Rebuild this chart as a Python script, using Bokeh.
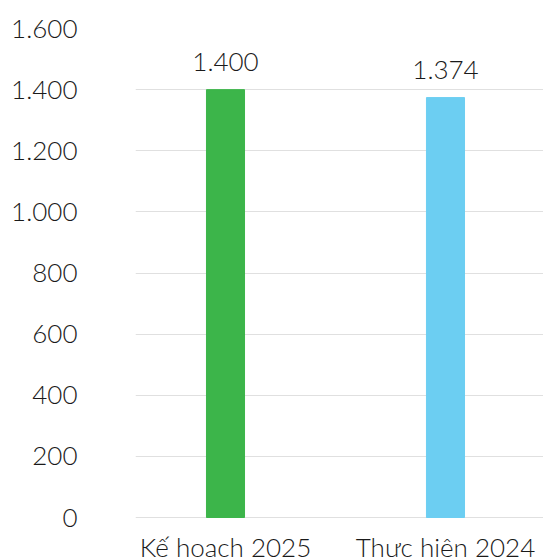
from bokeh.plotting import figure
from bokeh.models import ColumnDataSource, Range1d, FixedTicker
from bokeh.core.properties import value
from bokeh.embed import file_html
from bokeh.resources import INLINE

# Data
categories = ["Kế hoạch 2025", "Thực hiện 2024"]
amounts = [1400, 1374]
bar_colors = ["#3cb54a", "#6ccef2"]
y_ticks = [0, 200, 400, 600, 800, 1000, 1200, 1400, 1600]


def vn_number(v):
    return f"{int(v):,}".replace(",", ".")


FONT = "Lato Light"
TEXT_COLOR = "#1a1a1a"

# Layout in pixels: the value axis spans 0..1600 over 489 px, and the
# plot area continues 42 px below zero to hold the category names.
AXIS_PX = 489
BELOW_PX = 42
y_min = -y_ticks[-1] * BELOW_PX / AXIS_PX

positions = [i + 0.5 for i in range(len(categories))]

source = ColumnDataSource(dict(
    x=positions,
    top=amounts,
    base=[0] * len(amounts),
    color=bar_colors,
    label=[vn_number(a) for a in amounts],
    cat=categories,
))

p = figure(
    width=543, height=559,
    x_range=Range1d(0.0909, 1.9455),
    y_range=Range1d(y_min, y_ticks[-1]),
    output_backend="svg",
    toolbar_location=None,
    min_border_left=135, min_border_right=0,
    min_border_top=28, min_border_bottom=0,
)
p.outline_line_color = None
p.background_fill_color = "white"
p.border_fill_color = "white"

p.vbar(x="x", top="top", bottom="base", width=0.173, color="color", source=source)

# Value labels above the bars
p.text(x="x", y="top", text="label", source=source,
       text_align="center", text_baseline="alphabetic", y_offset=-28,
       text_font=value(FONT), text_font_size="26px", text_color=TEXT_COLOR)

# Category names under the bars
p.text(x="x", y="base", text="cat", source=source,
       text_align="center", text_baseline="alphabetic", y_offset=29,
       text_font=value(FONT), text_font_size="26px", text_color=TEXT_COLOR)

# Axes
p.yaxis.ticker = FixedTicker(ticks=y_ticks)
p.yaxis.major_label_overrides = {t: vn_number(t) for t in y_ticks}
p.yaxis.axis_line_color = None
p.yaxis.major_tick_line_color = None
p.yaxis.minor_tick_line_color = None
p.yaxis.major_tick_out = 0
p.yaxis.major_tick_in = 0
p.yaxis.major_label_text_font = FONT
p.yaxis.major_label_text_font_size = "26px"
p.yaxis.major_label_text_color = TEXT_COLOR
p.yaxis.major_label_standoff = 58

p.xaxis.visible = False

p.xgrid.grid_line_color = None
p.ygrid.ticker = FixedTicker(ticks=y_ticks)
p.ygrid.grid_line_color = "#e0e0e0"
p.ygrid.grid_line_width = 1

open("out.html", "w").write(file_html(p, INLINE))
